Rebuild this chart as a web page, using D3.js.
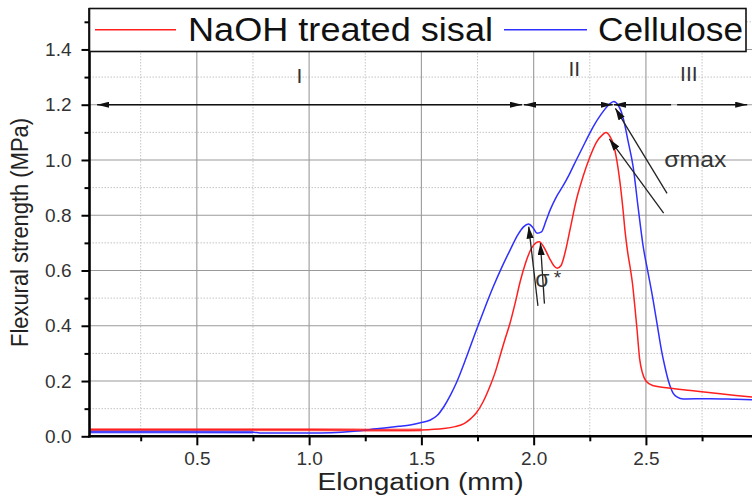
<!DOCTYPE html>
<html>
<head>
<meta charset="utf-8">
<script src="https://cdn.jsdelivr.net/npm/d3@7"></script>
<style>
  html, body { margin: 0; padding: 0; background: #fff; }
  svg { display: block; }
  text { font-family: "Liberation Sans", Arial, sans-serif; }
</style>
</head>
<body>
<svg id="chart" width="752" height="500"></svg>
<script>
// Flexural strength vs elongation, NaOH-treated sisal and cellulose composites
const sisalX = [0.022, 0.3, 0.6, 0.9, 1.2, 1.4, 1.5, 1.6, 1.65, 1.69, 1.72, 1.745, 1.775, 1.805, 1.83, 1.85, 1.87, 1.895, 1.92, 1.94, 1.965, 1.99, 2.01, 2.025, 2.045, 2.07, 2.09, 2.105, 2.122, 2.14, 2.165, 2.19, 2.22, 2.25, 2.28, 2.305, 2.322, 2.34, 2.355, 2.37, 2.385, 2.398, 2.408, 2.418, 2.43, 2.44, 2.45, 2.46, 2.472, 2.485, 2.5, 2.53, 2.6, 2.7, 2.8, 2.9, 3.0];
const sisalY = [0.024, 0.024, 0.024, 0.024, 0.023, 0.022, 0.023, 0.028, 0.035, 0.046, 0.064, 0.085, 0.125, 0.18, 0.235, 0.29, 0.345, 0.41, 0.49, 0.56, 0.63, 0.68, 0.7, 0.704, 0.685, 0.645, 0.617, 0.608, 0.618, 0.665, 0.76, 0.855, 0.94, 1.01, 1.065, 1.09, 1.099, 1.085, 1.058, 1.0, 0.915, 0.82, 0.735, 0.67, 0.61, 0.554, 0.475, 0.39, 0.28, 0.228, 0.2, 0.184, 0.175, 0.166, 0.157, 0.148, 0.14];

const celluloseX = [0.022, 0.4, 0.75, 0.78, 1.0, 1.1, 1.2, 1.3, 1.4, 1.45, 1.5, 1.54, 1.57, 1.6, 1.63, 1.655, 1.7, 1.745, 1.785, 1.82, 1.86, 1.895, 1.93, 1.955, 1.977, 1.997, 2.015, 2.035, 2.055, 2.075, 2.1, 2.13, 2.16, 2.19, 2.23, 2.265, 2.3, 2.335, 2.357, 2.375, 2.39, 2.405, 2.42, 2.443, 2.465, 2.488, 2.51, 2.532, 2.55, 2.569, 2.585, 2.599, 2.612, 2.621, 2.64, 2.666, 2.785, 2.9, 3.0];
const celluloseY = [0.016, 0.016, 0.015, 0.012, 0.012, 0.013, 0.018, 0.027, 0.036, 0.041, 0.05, 0.059, 0.075, 0.107, 0.15, 0.192, 0.285, 0.385, 0.47, 0.541, 0.615, 0.674, 0.73, 0.758, 0.768, 0.755, 0.735, 0.74, 0.78, 0.822, 0.865, 0.905, 0.95, 1.0, 1.065, 1.12, 1.165, 1.2, 1.212, 1.2, 1.175, 1.13, 1.07, 0.976, 0.83, 0.686, 0.59, 0.493, 0.405, 0.312, 0.25, 0.204, 0.172, 0.156, 0.142, 0.135, 0.136, 0.134, 0.132];

const seriesNames = ["NaOH treated sisal", "Cellulose"];
const seriesColors = ["#ff1f1f", "#3030ff"];

const xMajorTicks = [0.5, 1.0, 1.5, 2.0, 2.5];
const xMinorTicks = [0.25, 0.75, 1.25, 1.75, 2.25, 2.75];
const yMajorTicks = [0.0, 0.2, 0.4, 0.6, 0.8, 1.0, 1.2, 1.4];
const yMinorTicks = [0.1, 0.3, 0.5, 0.7, 0.9, 1.1, 1.3, 1.5];

// Stage arrows along the 1.2 MPa line (data units)
const stageArrows = [
  { x1: 0.056, x2: 1.948, y: 1.2, start: true,  end: true },
  { x1: 1.957, x2: 2.352, y: 1.2, start: true,  end: true },
  { x1: 2.358, x2: 2.612, y: 1.2, start: true,  end: false },
  { x1: 2.639, x2: 2.951, y: 1.2, start: false, end: true }
];
const stageLabels = [
  { text: "I",   x: 0.957, y: 1.278 },
  { text: "II",  x: 2.181, y: 1.304 },
  { text: "III", x: 2.691, y: 1.287 }
];
// Pointer arrows: tail (x1,y1) -> head (x2,y2)
const sigmaMaxArrows = [
  { x1: 2.594, y1: 0.879, x2: 2.364, y2: 1.187 },
  { x1: 2.579, y1: 0.808, x2: 2.337, y2: 1.076 }
];
const sigmaStarArrows = [
  { x1: 2.019, y1: 0.472, x2: 1.978, y2: 0.759 },
  { x1: 2.048, y1: 0.48,  x2: 2.030, y2: 0.699 }
];

const svg = d3.select("#chart");
const W = 752;

const x = d3.scaleLinear().domain([0.022, 3.0]).range([89.5, 758.2]);
const y = d3.scaleLinear().domain([0, 1.55]).range([436.3, 8]);

const plotLeft = x(0.022), plotRight = W, plotTop = y(1.55), plotBottom = y(0);

// Grid
const grid = svg.append("g");
grid.selectAll("line.xminor").data(xMinorTicks).join("line")
  .attr("x1", d => x(d)).attr("x2", d => x(d))
  .attr("y1", plotTop).attr("y2", plotBottom)
  .attr("stroke", "#c4c4c4").attr("stroke-width", 1).attr("stroke-dasharray", "1.5,1.5");
grid.selectAll("line.yminor").data(yMinorTicks).join("line")
  .attr("x1", plotLeft).attr("x2", plotRight)
  .attr("y1", d => y(d)).attr("y2", d => y(d))
  .attr("stroke", "#c4c4c4").attr("stroke-width", 1).attr("stroke-dasharray", "1.5,1.5");
grid.selectAll("line.xmajor").data(xMajorTicks).join("line")
  .attr("x1", d => x(d)).attr("x2", d => x(d))
  .attr("y1", plotTop).attr("y2", plotBottom)
  .attr("stroke", "#9a9a9a").attr("stroke-width", 1.1);
grid.selectAll("line.ymajor").data(yMajorTicks.filter(d => d > 0)).join("line")
  .attr("x1", plotLeft).attr("x2", plotRight)
  .attr("y1", d => y(d)).attr("y2", d => y(d))
  .attr("stroke", "#9a9a9a").attr("stroke-width", 1.1);

// Curves
svg.append("clipPath").attr("id", "plotClip")
  .append("rect").attr("x", plotLeft).attr("y", plotTop)
  .attr("width", plotRight - plotLeft).attr("height", plotBottom - plotTop);

const line = d3.line().x(d => x(d[0])).y(d => y(d[1])).curve(d3.curveMonotoneX);
const curves = svg.append("g").attr("clip-path", "url(#plotClip)");
const sisal = sisalX.map((v, i) => [v, sisalY[i]]);
const cellulose = celluloseX.map((v, i) => [v, celluloseY[i]]);

// heavier trace along the flat, unloaded start of each run
curves.append("path").attr("d", line(sisal.filter(d => d[0] <= 1.5)))
  .attr("fill", "none").attr("stroke", seriesColors[0]).attr("stroke-opacity", 0.55).attr("stroke-width", 3.2);
curves.append("path").attr("d", line(cellulose.filter(d => d[0] <= 0.75)))
  .attr("fill", "none").attr("stroke", seriesColors[1]).attr("stroke-opacity", 0.55).attr("stroke-width", 3.2);

curves.append("path").attr("d", line(cellulose))
  .attr("fill", "none").attr("stroke", seriesColors[1]).attr("stroke-width", 1.5);
curves.append("path").attr("d", line(sisal))
  .attr("fill", "none").attr("stroke", seriesColors[0]).attr("stroke-width", 1.5);

// Axes
const fmt = d3.format(".1f");
const xAxis = svg.append("g").attr("transform", `translate(0,${plotBottom})`)
  .call(d3.axisBottom(x).tickValues(xMajorTicks).tickFormat(fmt).tickSize(9).tickPadding(6));
const xAxisMinor = svg.append("g").attr("transform", `translate(0,${plotBottom})`)
  .call(d3.axisBottom(x).tickValues(xMinorTicks).tickFormat("").tickSize(5));
const yAxis = svg.append("g").attr("transform", `translate(${plotLeft},0)`)
  .call(d3.axisLeft(y).tickValues(yMajorTicks).tickFormat(fmt).tickSize(8).tickPadding(10));
const yAxisMinor = svg.append("g").attr("transform", `translate(${plotLeft},0)`)
  .call(d3.axisLeft(y).tickValues(yMinorTicks).tickFormat("").tickSize(5));

[xAxis, xAxisMinor, yAxis, yAxisMinor].forEach(g => {
  g.select(".domain").remove();
  g.selectAll(".tick line").attr("stroke", "#000").attr("stroke-width", 2);
  g.selectAll(".tick text").attr("fill", "#333").attr("font-size", 19)
    .attr("font-family", "'Liberation Sans', Arial, sans-serif");
});

// Spines
svg.append("line").attr("x1", plotLeft - 1).attr("x2", plotRight)
  .attr("y1", plotBottom).attr("y2", plotBottom)
  .attr("stroke", "#000").attr("stroke-width", 2.6);
svg.append("line").attr("x1", plotLeft).attr("x2", plotLeft)
  .attr("y1", plotTop).attr("y2", plotBottom + 1.3)
  .attr("stroke", "#000").attr("stroke-width", 2.6);

// Axis titles
svg.append("text")
  .attr("x", 420.5).attr("y", 490)
  .attr("text-anchor", "middle").attr("font-size", 23).attr("fill", "#222")
  .attr("textLength", 206).attr("lengthAdjust", "spacingAndGlyphs")
  .text("Elongation (mm)");
svg.append("text")
  .attr("transform", "translate(28,232.5) rotate(-90) scale(1,1.12)")
  .attr("text-anchor", "middle").attr("font-size", 22).attr("fill", "#222")
  .attr("textLength", 229).attr("lengthAdjust", "spacingAndGlyphs")
  .text("Flexural strength (MPa)");

// Arrowhead markers
const defs = svg.append("defs");
function addMarker(id, len, half) {
  defs.append("marker").attr("id", id)
    .attr("markerUnits", "userSpaceOnUse")
    .attr("viewBox", `0 ${-half} ${len} ${2 * half}`)
    .attr("refX", len).attr("refY", 0)
    .attr("markerWidth", len).attr("markerHeight", 2 * half)
    .attr("orient", "auto-start-reverse")
    .append("path").attr("d", `M0,${-half}L${len},0L0,${half}Z`).attr("fill", "#111");
}
addMarker("headStage", 12, 3);
addMarker("headPointer", 12, 3.6);

// Stage arrows
svg.append("g").selectAll("line").data(stageArrows).join("line")
  .attr("x1", d => x(d.x1)).attr("x2", d => x(d.x2))
  .attr("y1", d => y(d.y)).attr("y2", d => y(d.y))
  .attr("stroke", "#111").attr("stroke-width", 1.6)
  .attr("marker-start", d => d.start ? "url(#headStage)" : null)
  .attr("marker-end", d => d.end ? "url(#headStage)" : null);

svg.append("g").selectAll("text").data(stageLabels).join("text")
  .attr("x", d => x(d.x)).attr("y", d => y(d.y))
  .attr("text-anchor", "middle").attr("font-size", 21).attr("fill", "#333")
  .text(d => d.text);

// Pointer arrows
svg.append("g").selectAll("line").data(sigmaMaxArrows.concat(sigmaStarArrows)).join("line")
  .attr("x1", d => x(d.x1)).attr("y1", d => y(d.y1))
  .attr("x2", d => x(d.x2)).attr("y2", d => y(d.y2))
  .attr("stroke", "#222").attr("stroke-width", 1.3)
  .attr("marker-end", "url(#headPointer)");

svg.append("text")
  .attr("x", x(2.582)).attr("y", y(0.975))
  .attr("font-size", 22).attr("fill", "#333")
  .attr("textLength", 62).attr("lengthAdjust", "spacingAndGlyphs")
  .text("σmax");
svg.append("text")
  .attr("x", x(2.039)).attr("y", y(0.54))
  .attr("text-anchor", "middle").attr("font-size", 23).attr("fill", "#333")
  .text("σ");
svg.append("text")
  .attr("x", x(2.089)).attr("y", y(0.551))
  .attr("font-size", 19).attr("fill", "#333")
  .text("*");

// Legend
const legend = svg.append("g");
legend.append("rect")
  .attr("x", plotLeft).attr("y", 8.5).attr("width", 656.5).attr("height", 43)
  .attr("fill", "#fff").attr("stroke", "#111").attr("stroke-width", 1.6);
const legendItems = [
  { lx1: 95, lx2: 176, tx: 188, tw: 305 },
  { lx1: 504, lx2: 587, tx: 598, tw: 145 }
];
legendItems.forEach((it, i) => {
  legend.append("line").attr("x1", it.lx1).attr("x2", it.lx2)
    .attr("y1", 29.8).attr("y2", 29.8)
    .attr("stroke", seriesColors[i]).attr("stroke-width", 1.6);
  legend.append("text").attr("x", it.tx).attr("y", 40.7)
    .attr("font-size", 33).attr("fill", "#111")
    .attr("textLength", it.tw).attr("lengthAdjust", "spacingAndGlyphs")
    .text(seriesNames[i]);
});
</script>
</body>
</html>
